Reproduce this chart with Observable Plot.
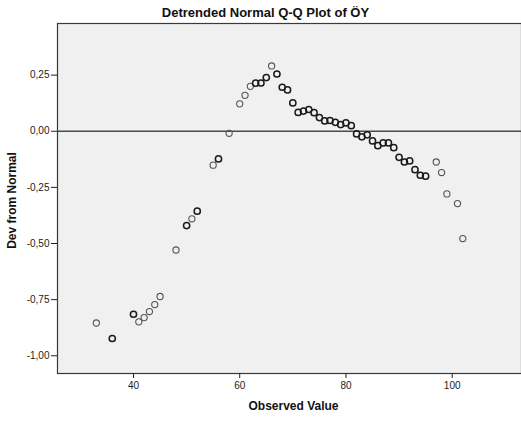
<!DOCTYPE html>
<html>
<head>
<meta charset="utf-8">
<script src="https://cdn.jsdelivr.net/npm/d3@7"></script>
<script src="https://cdn.jsdelivr.net/npm/@observablehq/plot@0.6"></script>
<style>
  html, body { margin: 0; padding: 0; background: #fff; }
  #chart svg { display: block; }
</style>
</head>
<body>
<div id="chart"></div>
<script>
const title = "Detrended Normal Q-Q Plot of ÖY";
const xLabel = "Observed Value";
const yLabel = "Dev from Normal";

const observed = [33,36,40,41,42,43,44,45,48,50,51,52,55,56,58,60,61,62,63,64,65,66,67,68,69,70,71,72,73,74,75,76,77,78,79,80,81,82,83,84,85,86,87,88,89,90,91,92,93,94,95,97,98,99,101,102];
const devFromNormal = [-0.854,-0.923,-0.815,-0.849,-0.83,-0.803,-0.772,-0.736,-0.529,-0.42,-0.39,-0.356,-0.151,-0.123,-0.009,0.122,0.16,0.20,0.214,0.215,0.239,0.291,0.255,0.196,0.184,0.126,0.084,0.09,0.097,0.083,0.061,0.046,0.048,0.04,0.03,0.037,0.025,-0.012,-0.025,-0.016,-0.043,-0.064,-0.052,-0.052,-0.073,-0.116,-0.137,-0.132,-0.171,-0.196,-0.2,-0.137,-0.184,-0.279,-0.322,-0.478];
const caseCount = [1,2,2,1,1,1,1,1,1,2,1,2,1,2,1,1,1,1,2,2,2,1,3,2,3,3,2,2,2,2,2,2,2,2,2,2,2,2,2,2,2,2,2,2,2,2,2,2,2,2,2,1,1,1,1,1];

const xTicks = [40, 60, 80, 100];
const yTicks = [0.25, 0, -0.25, -0.5, -0.75, -1];

const data = observed.map((x, i) => ({x, y: devFromNormal[i], n: caseCount[i]}));
const fmt = v => v.toFixed(2).replace(".", ",");

const chart = Plot.plot({
  width: 521,
  height: 421,
  marginTop: 23,
  marginLeft: 57,
  marginRight: 0,
  marginBottom: 48,
  style: {fontFamily: "Arial, 'Liberation Sans', sans-serif", fontSize: "10px", color: "#222", background: "#fff"},
  x: {domain: [25.69, 113.05], ticks: xTicks},
  y: {domain: [-1.079, 0.48], ticks: yTicks},
  marks: [
    Plot.frame({fill: "#f0f0f0", stroke: "none"}),
    Plot.ruleY([0], {stroke: "#4a4a4a", strokeWidth: 1.6}),
    Plot.dot(data, {filter: d => d.n === 1, x: "x", y: "y", r: 3.1, stroke: "#555", strokeWidth: 1.1, fill: "none"}),
    Plot.dot(data, {filter: d => d.n > 1, x: "x", y: "y", r: 3.1, stroke: "#1a1a1a", strokeWidth: 1.5, fill: "none"}),
    Plot.frame({stroke: "#3a3a3a", strokeWidth: 1.2, fill: "none"}),
    Plot.axisX({ticks: xTicks, tickSize: 5, tickPadding: 3, label: null, tickFormat: d => String(d), stroke: "#222"}),
    Plot.axisY({ticks: yTicks, tickSize: 6, tickPadding: 2, label: null, tickFormat: fmt, stroke: "#222"}),
    Plot.text([title], {frameAnchor: "top", lineAnchor: "middle", textAnchor: "middle", dy: -10.5, dx: -24, fontSize: 13, fontWeight: "bold", fill: "#111"}),
    Plot.text([xLabel], {frameAnchor: "bottom", lineAnchor: "middle", textAnchor: "middle", dy: 33, dx: 4, fontSize: 12, fontWeight: "bold", fill: "#111"}),
    Plot.text([yLabel], {frameAnchor: "left", lineAnchor: "middle", textAnchor: "middle", dx: -45, dy: 2, rotate: -90, fontSize: 12, fontWeight: "bold", fill: "#111"})
  ]
});
document.getElementById("chart").appendChild(chart);
</script>
</body>
</html>
